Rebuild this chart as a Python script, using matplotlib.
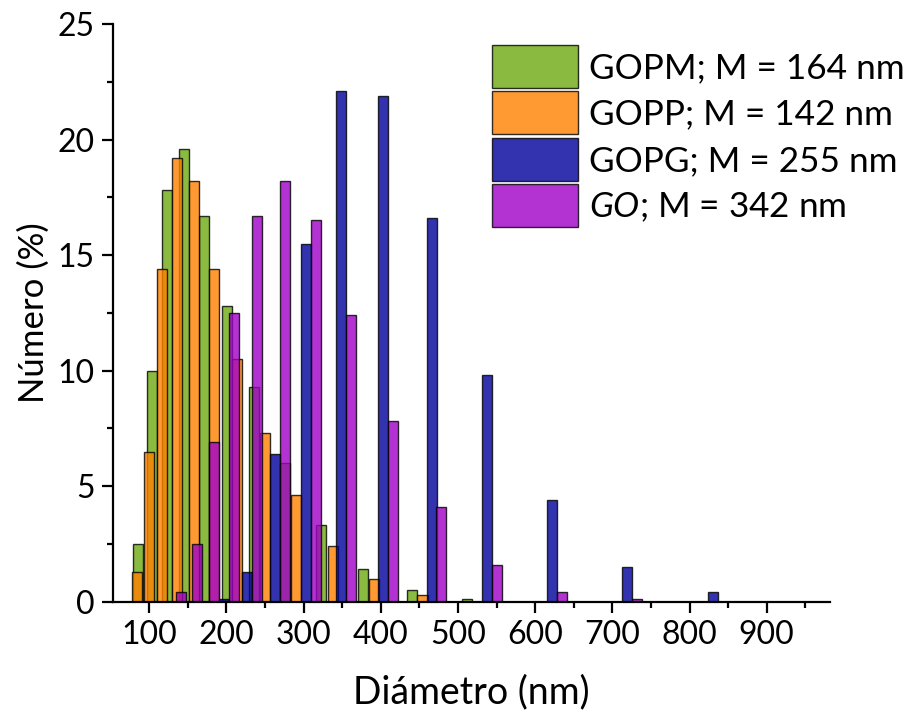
import matplotlib

matplotlib.use("Agg")
import matplotlib.pyplot as plt
from matplotlib.ticker import MultipleLocator

plt.rcParams["font.family"] = ["Lato", "DejaVu Sans"]
plt.rcParams["mathtext.fontset"] = "custom"
plt.rcParams["mathtext.rm"] = "Lato"
plt.rcParams["mathtext.it"] = "Lato:italic"

# bin centres (nm) and number-% for each sample
gopm_x = [85.8, 103.1, 122.5, 144.9, 170.9, 200.6, 235.9, 276.4, 322.8, 377.5, 440.9, 511.5]
gopm_y = [2.5, 10.0, 17.8, 19.6, 16.7, 12.8, 9.3, 6.0, 3.3, 1.4, 0.5, 0.1]

gopp_x = [84.7, 99.2, 116.1, 135.5, 157.9, 183.8, 214.1, 249.6, 290.4, 338.1, 391.0, 454.0]
gopp_y = [1.3, 6.5, 14.4, 19.2, 18.2, 14.4, 10.5, 7.3, 4.6, 2.4, 1.0, 0.3]

gopg_x = [197.0, 227.2, 262.8, 303.0, 348.4, 403.2, 466.2, 537.0, 621.6, 718.4, 831.0]
gopg_y = [0.1, 1.3, 6.4, 15.5, 22.1, 21.9, 16.6, 9.8, 4.4, 1.5, 0.4]

go_x = [141.5, 161.4, 183.4, 209.7, 240.0, 275.5, 316.2, 361.7, 416.3, 477.8, 550.4, 634.6, 732.1]
go_y = [0.4, 2.5, 6.9, 12.5, 16.7, 18.2, 16.5, 12.4, 7.8, 4.1, 1.6, 0.4, 0.1]

labels = [
    "GOPM; M = 164 nm",
    "GOPP; M = 142 nm",
    "GOPG; M = 255 nm",
    r"$\mathit{GO}$; M = 342 nm",
]
colors = ["#6DA910", "#FF8100", "#00009C", "#9F00C7"]

series = [(gopm_x, gopm_y), (gopp_x, gopp_y), (gopg_x, gopg_y), (go_x, go_y)]

fig = plt.figure(figsize=(9.07, 7.17), dpi=100)
ax = fig.add_axes([0.1246, 0.1608, 0.7905, 0.8057])

for (xs, ys), color, label in zip(series, colors, labels):
    ax.bar(xs, ys, width=13, color=color, alpha=0.8, edgecolor="black",
           linewidth=1.0, label=label)

ax.set_xlim(53, 982)
ax.set_ylim(0, 25)
ax.xaxis.set_major_locator(MultipleLocator(100))
ax.xaxis.set_minor_locator(MultipleLocator(50))
ax.yaxis.set_major_locator(MultipleLocator(5))
ax.yaxis.set_minor_locator(MultipleLocator(2.5))
ax.set_xticks(range(100, 1000, 100))

ax.spines["top"].set_visible(False)
ax.spines["right"].set_visible(False)
for side in ["left", "bottom"]:
    ax.spines[side].set_linewidth(1.6)

ax.tick_params(which="major", direction="out", length=8, width=1.6,
               labelsize=23, pad=5)
ax.tick_params(which="minor", direction="out", length=4.5, width=1.6)

ax.set_xlabel("Diámetro (nm)", fontsize=27, labelpad=18)
ax.set_ylabel("Número (%)", fontsize=25, labelpad=6)

ax.legend(loc="upper left", bbox_to_anchor=(492 / 907, 1 - 45 / 717),
          bbox_transform=fig.transFigure, frameon=False, fontsize=25.3,
          borderpad=0, borderaxespad=0, handlelength=2.45, handleheight=1.5,
          handletextpad=0.3, labelspacing=0.1)

fig.savefig("out.png", dpi=100)
